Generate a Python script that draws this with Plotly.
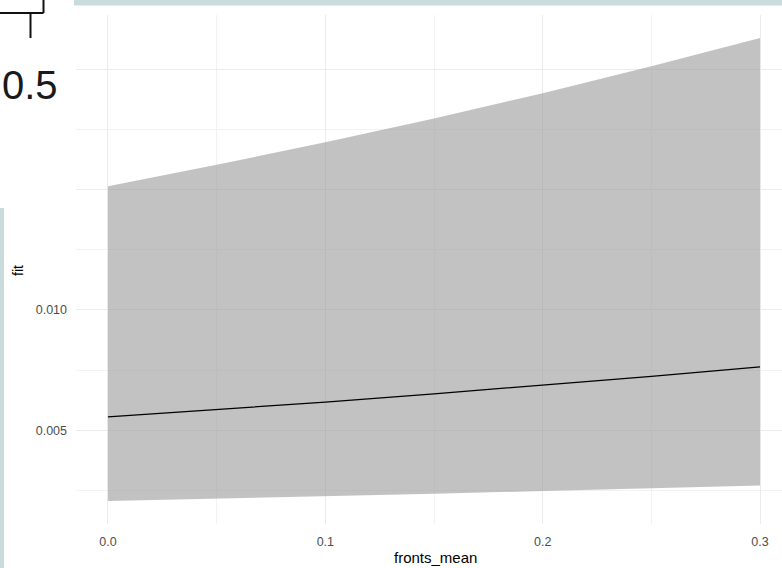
import plotly.graph_objects as go

# Data
fronts_mean = [0.0, 0.05, 0.10, 0.15, 0.20, 0.25, 0.30]
fit = [0.00555, 0.00585, 0.00617, 0.00651, 0.00686, 0.00724, 0.00763]
upper = [0.01514, 0.01603, 0.01697, 0.01796, 0.01901, 0.02013, 0.02130]
lower = [0.00206, 0.00215, 0.00225, 0.00236, 0.00247, 0.00258, 0.00270]

y_tickvals = [0.005, 0.010, 0.015, 0.020]
y_ticktext = ["0.005", "0.010", "", ""]
x_tickvals = [0.0, 0.1, 0.2, 0.3]
x_ticktext = ["0.0", "0.1", "0.2", "0.3"]

W, H = 782, 568
ML, MR, MT, MB = 76, 0, 15, 44
PW, PH = W - ML - MR, H - MT - MB


def px(x):
    return (x - ML) / PW


def py(y):
    return (H - MB - y) / PH


fig = go.Figure()
fig.add_trace(go.Scatter(x=fronts_mean, y=lower, mode="lines",
                         line=dict(width=0, color="rgba(0,0,0,0)"),
                         showlegend=False, hoverinfo="skip"))
fig.add_trace(go.Scatter(x=fronts_mean, y=upper, mode="lines", fill="tonexty",
                         fillcolor="rgba(153,153,153,0.6)",
                         line=dict(width=0, color="rgba(0,0,0,0)"),
                         showlegend=False, hoverinfo="skip"))
fig.add_trace(go.Scatter(x=fronts_mean, y=fit, mode="lines",
                         line=dict(color="black", width=1.2),
                         showlegend=False))

grid = "#EBEBEB"
tickfont = dict(family="Liberation Sans", size=12.5, color="#4D4D4D")
fig.update_xaxes(range=[-0.0147, 0.3101], tickvals=x_tickvals, ticktext=x_ticktext,
                 showgrid=True, gridcolor=grid, gridwidth=1,
                 minor=dict(tickvals=[0.05, 0.15, 0.25], showgrid=True,
                            gridcolor="#F2F2F2", gridwidth=1),
                 zeroline=False, showline=False, ticks="",
                 tickfont=tickfont, ticklabelstandoff=8)
fig.update_yaxes(range=[0.00110, 0.02226], tickvals=y_tickvals, ticktext=y_ticktext,
                 showgrid=True, gridcolor=grid, gridwidth=1,
                 minor=dict(tickvals=[0.0025, 0.0075, 0.0125, 0.0175], showgrid=True,
                            gridcolor="#F2F2F2", gridwidth=1),
                 zeroline=False, showline=False, ticks="",
                 tickfont=tickfont, ticklabelstandoff=8)

strip = "#CADBDC"
shapes = [
    dict(type="rect", xref="paper", yref="paper", x0=px(74), x1=px(782), y0=py(0), y1=py(5.5),
         fillcolor=strip, line=dict(width=0), layer="above"),
    dict(type="rect", xref="paper", yref="paper", x0=px(0), x1=px(4), y0=py(208), y1=py(568),
         fillcolor=strip, line=dict(width=0), layer="above"),
    dict(type="line", xref="paper", yref="paper", x0=px(0), x1=px(43.5), y0=py(13), y1=py(13),
         line=dict(color="#111111", width=2), layer="above"),
    dict(type="line", xref="paper", yref="paper", x0=px(43.5), x1=px(43.5), y0=py(0), y1=py(13),
         line=dict(color="#111111", width=2), layer="above"),
    dict(type="line", xref="paper", yref="paper", x0=px(30.5), x1=px(30.5), y0=py(13), y1=py(38),
         line=dict(color="#111111", width=2), layer="above"),
]

fig.update_layout(
    width=W, height=H,
    margin=dict(l=ML, r=MR, t=MT, b=MB),
    plot_bgcolor="white", paper_bgcolor="white",
    shapes=shapes,
    annotations=[
        dict(text="0.5", xref="paper", yref="paper", x=px(30), y=py(85),
             xanchor="center", yanchor="middle", showarrow=False,
             font=dict(family="Liberation Sans", size=40, color="#1a1a1a")),
        dict(text="fit", xref="paper", yref="paper", x=px(18), y=py(270),
             xanchor="center", yanchor="middle", showarrow=False, textangle=-90,
             font=dict(family="Liberation Sans", size=14, color="black")),
        dict(text="fronts_mean", xref="paper", yref="paper", x=px(435), y=py(557),
             xanchor="center", yanchor="middle", showarrow=False,
             font=dict(family="Liberation Sans", size=15, color="black")),
    ],
)

fig.write_html("out.html", config={"displayModeBar": False},
               post_script="document.body.style.margin='0';document.body.style.overflow='hidden';")
